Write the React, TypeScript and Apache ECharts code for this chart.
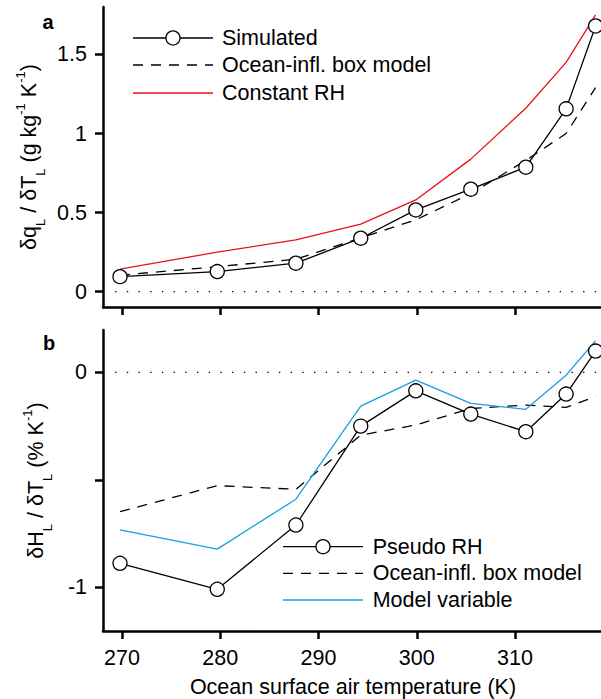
import React, { useEffect, useRef } from "react";
import * as echarts from "echarts";

// ---- data ----
const temps = [269.8, 279.7, 287.7, 294.3, 299.9, 305.5, 311.1, 315.2, 318.2];
// panel a
const simulated = [0.095, 0.127, 0.18, 0.338, 0.517, 0.648, 0.787, 1.156, 1.68];
const boxModelA = [0.104, 0.158, 0.205, 0.34, 0.454, 0.62, 0.83, 1.0, 1.29];
const constantRH = [0.142, 0.25, 0.327, 0.427, 0.58, 0.838, 1.16, 1.45, 1.75];
// panel b
const pseudoRH = [-0.888, -1.009, -0.71, -0.25, -0.086, -0.194, -0.276, -0.101, 0.099];
const boxModelB = [-0.648, -0.527, -0.544, -0.292, -0.245, -0.168, -0.152, -0.163, -0.113];
const modelVariable = [-0.733, -0.822, -0.59, -0.157, -0.036, -0.144, -0.172, -0.013, 0.147];
// zero reference line extent
const zeroLineX = [269.3, 318.3];

// ticks
const xTicks = [270, 280, 290, 300, 310];
const yTicksA = [0, 0.5, 1, 1.5];
const yTicksB = [-1, -0.5, 0];
const yLabelsB = [-1, 0];

const legendA = ["Simulated", "Ocean-infl. box model", "Constant RH"];
const legendB = ["Pseudo RH", "Ocean-infl. box model", "Model variable"];

const FONT = "Liberation Sans";
const FS = 21.5;
const RED = "#e8121b";
const BLUE = "#17a0e2";
const LW = 1.3;
const DASH = [10, 8];

const pairs = (ys: number[]) => temps.map((t, i) => [t, ys[i]]);

export default function App() {
  const ref = useRef<HTMLDivElement>(null);
  useEffect(() => {
    if (!ref.current) return;
    const chart = echarts.init(ref.current, undefined, { renderer: "svg" });

    const axisLine = { show: true, onZero: false, lineStyle: { color: "#000", width: 2.5 } };
    const tick = (vals: number[]) => ({
      show: true,
      inside: false,
      length: 8,
      customValues: vals,
      lineStyle: { color: "#000", width: 2.5 },
    });
    const label = (vals: number[], show: boolean, margin: number) => ({
      show,
      customValues: vals,
      margin,
      color: "#000",
      fontSize: FS,
      fontFamily: FONT,
    });

    const xAxisBase = (gi: number, showLabel: boolean) => ({
      type: "value",
      gridIndex: gi,
      min: 268.07,
      max: 318.75,
      axisLine,
      axisTick: tick(xTicks),
      axisLabel: label(xTicks, showLabel, 16),
      splitLine: { show: false },
    });

    const legendGraphics = (
      names: string[],
      rows: number[],
      x1: number,
      x2: number,
      tx: number,
      styles: { stroke: string; dash?: number[]; circle?: boolean }[]
    ) => {
      const els: any[] = [];
      names.forEach((n, i) => {
        const s = styles[i];
        els.push({
          type: "line",
          shape: { x1, y1: rows[i], x2, y2: rows[i] },
          style: { stroke: s.stroke, lineWidth: LW, lineDash: s.dash || null },
          silent: true,
        });
        if (s.circle) {
          els.push({
            type: "circle",
            shape: { cx: (x1 + x2) / 2, cy: rows[i], r: 7 },
            style: { fill: "#fff", stroke: "#000", lineWidth: LW },
            silent: true,
          });
        }
        els.push({
          type: "text",
          x: tx,
          y: rows[i],
          style: {
            text: n,
            fill: "#000",
            fontSize: FS,
            fontFamily: FONT,
            align: "left",
            verticalAlign: "middle",
          },
          silent: true,
        });
      });
      return els;
    };

    const rich = {
      m: { fontSize: FS, fontFamily: FONT, fill: "#000", verticalAlign: "top", padding: [5, 0, 0, 0] },
      sub: { fontSize: 13, fontFamily: FONT, fill: "#000", verticalAlign: "top", padding: [21.5, 0, 0, 0] },
      sup: { fontSize: 13, fontFamily: FONT, fill: "#000", verticalAlign: "top", padding: [1.6, 0, 0, 0] },
    };

    const option: any = {
      animation: false,
      textStyle: { fontFamily: FONT },
      grid: [
        { left: 103, top: 7, right: 0, height: 300 },
        { left: 103, top: 330, right: 0, height: 301 },
      ],
      xAxis: [xAxisBase(0, false), xAxisBase(1, true)],
      yAxis: [
        {
          type: "value",
          gridIndex: 0,
          min: -0.097,
          max: 1.8,
          axisLine,
          axisTick: tick(yTicksA),
          axisLabel: label(yTicksA, true, 16),
          splitLine: { show: false },
        },
        {
          type: "value",
          gridIndex: 1,
          min: -1.203,
          max: 0.197,
          axisLine,
          axisTick: tick(yTicksB),
          axisLabel: label(yLabelsB, true, 16),
          splitLine: { show: false },
        },
      ],
      series: [
        {
          name: "zeroA",
          type: "line",
          xAxisIndex: 0,
          yAxisIndex: 0,
          data: zeroLineX.map((x) => [x, 0]),
          symbol: "none",
          silent: true,
          lineStyle: { color: "#000", width: 1.4, type: [1.4, 10.3] },
        },
        {
          name: "zeroB",
          type: "line",
          xAxisIndex: 1,
          yAxisIndex: 1,
          data: zeroLineX.map((x) => [x, 0]),
          symbol: "none",
          silent: true,
          lineStyle: { color: "#000", width: 1.4, type: [1.4, 10.3] },
        },
        {
          name: "Constant RH",
          type: "line",
          xAxisIndex: 0,
          yAxisIndex: 0,
          data: pairs(constantRH),
          symbol: "none",
          lineStyle: { color: RED, width: LW },
        },
        {
          name: "Ocean-infl. box model (a)",
          type: "line",
          xAxisIndex: 0,
          yAxisIndex: 0,
          data: pairs(boxModelA),
          symbol: "none",
          lineStyle: { color: "#000", width: LW, type: DASH },
        },
        {
          name: "Simulated",
          type: "line",
          xAxisIndex: 0,
          yAxisIndex: 0,
          data: pairs(simulated),
          symbol: "circle",
          symbolSize: 14,
          itemStyle: { color: "#fff", borderColor: "#000", borderWidth: LW },
          lineStyle: { color: "#000", width: LW },
        },
        {
          name: "Ocean-infl. box model (b)",
          type: "line",
          xAxisIndex: 1,
          yAxisIndex: 1,
          data: pairs(boxModelB),
          symbol: "none",
          lineStyle: { color: "#000", width: LW, type: DASH },
        },
        {
          name: "Model variable",
          type: "line",
          xAxisIndex: 1,
          yAxisIndex: 1,
          data: pairs(modelVariable),
          symbol: "none",
          lineStyle: { color: BLUE, width: LW },
        },
        {
          name: "Pseudo RH",
          type: "line",
          xAxisIndex: 1,
          yAxisIndex: 1,
          data: pairs(pseudoRH),
          symbol: "circle",
          symbolSize: 14,
          itemStyle: { color: "#fff", borderColor: "#000", borderWidth: LW },
          lineStyle: { color: "#000", width: LW },
        },
      ],
      graphic: [
        ...legendGraphics(legendA, [38, 65, 93], 133, 213, 222, [
          { stroke: "#000", circle: true },
          { stroke: "#000", dash: DASH },
          { stroke: RED },
        ]),
        ...legendGraphics(legendB, [546.7, 573.3, 600], 283, 363, 372.7, [
          { stroke: "#000", circle: true },
          { stroke: "#000", dash: DASH },
          { stroke: BLUE },
        ]),
        {
          type: "text",
          x: 48,
          y: 22,
          style: { text: "a", fontSize: 20, fontWeight: "bold", fontFamily: FONT, fill: "#000", align: "center", verticalAlign: "middle" },
        },
        {
          type: "text",
          x: 49,
          y: 343,
          style: { text: "b", fontSize: 20, fontWeight: "bold", fontFamily: FONT, fill: "#000", align: "center", verticalAlign: "middle" },
        },
        {
          type: "text",
          x: 30,
          y: 157,
          rotation: Math.PI / 2,
          style: {
            text: "{m|δq}{sub|L}{m| / δT}{sub|L}{m| (g kg}{sup|-1}{m| K}{sup|-1}{m|)}",
            rich,
            fill: "#000",
            fontFamily: FONT,
            align: "center",
            verticalAlign: "middle",
          },
        },
        {
          type: "text",
          x: 37,
          y: 480.5,
          rotation: Math.PI / 2,
          style: {
            text: "{m|δH}{sub|L}{m| / δT}{sub|L}{m| (% K}{sup|-1}{m|)}",
            rich,
            fill: "#000",
            fontFamily: FONT,
            align: "center",
            verticalAlign: "middle",
          },
        },
        {
          type: "text",
          x: 353,
          y: 687,
          style: {
            text: "Ocean surface air temperature (K)",
            fontSize: FS,
            fontFamily: FONT,
            fill: "#000",
            align: "center",
            verticalAlign: "middle",
          },
        },
      ],
    };
    chart.setOption(option);
    return () => chart.dispose();
  }, []);
  return (
    <div
      ref={ref}
      style={{ position: "absolute", left: 0, top: 0, width: 601, height: 699 }}
    />
  );
}
